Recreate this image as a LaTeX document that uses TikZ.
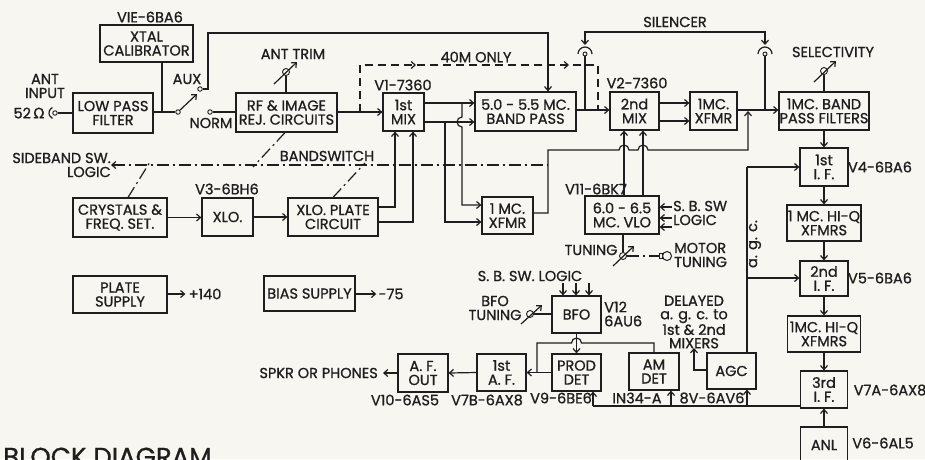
\documentclass[tikz,border=0pt]{standalone}
\usepackage{fontspec}
\setmainfont{Poppins}[FakeBold=0.9]
\newfontfamily\dvfont{DejaVu Sans}[FakeBold=0.6]
\usetikzlibrary{arrows.meta}
\definecolor{paper}{RGB}{248,246,240}
\definecolor{ink}{RGB}{30,30,30}
\newcommand{\bx}{\fontsize{14.5}{14}\selectfont}
\newcommand{\bigt}{\fontsize{26}{28}\selectfont}
\begin{document}
\begin{tikzpicture}[x=1pt,y=-1pt,
  blk/.style={draw=ink, line width=1.2pt, inner sep=0pt, align=center, font=\bx, text=ink},
  lbl/.style={inner sep=0pt, align=center, font=\bx, text=ink},
  ln/.style={draw=ink, line width=1.2pt},
  arr/.style={ln, -{Straight Barb[length=4pt,width=7pt]}},
  dsh/.style={ln, dash pattern=on 8pt off 5pt},
  dd/.style={ln, dash pattern=on 12pt off 4pt on 2pt off 4pt},
  term/.style={circle, draw=ink, fill=paper, line width=0.9pt, inner sep=0pt, minimum size=4.5pt},
  knob/.style={circle, draw=ink, fill=paper, line width=0.9pt, inner sep=0pt, minimum size=7pt}]
\clip (0,0) rectangle (925,459);
\fill[paper] (0,0) rectangle (925,459);

% ---------- boxes ----------
\node[blk,minimum width=93pt,minimum height=37pt] (cal) at (146.5,43.5) {XTAL\\CALIBRATOR};
\node[blk,minimum width=80pt,minimum height=40pt] (lpf) at (113,113) {LOW PASS\\FILTER};
\node[blk,minimum width=101pt,minimum height=39pt] (rf) at (286.5,112.5) {RF \& IMAGE\\REJ. CIRCUITS};
\node[blk,minimum width=41pt,minimum height=38pt] (mix1) at (403.5,112) {1st\\MIX};
\node[blk,minimum width=101pt,minimum height=39pt] (bp) at (525.5,111.5) {5.0 - 5.5 MC.\\BAND PASS};
\node[blk,minimum width=49pt,minimum height=38pt] (mix2) at (634.5,111) {2nd\\MIX};
\node[blk,minimum width=47pt,minimum height=38pt] (xf2) at (713.5,111) {1MC.\\XFMR};
\node[blk,minimum width=90pt,minimum height=38pt] (bpf) at (824,111) {1MC. BAND\\PASS FILTERS};
\node[blk,minimum width=48pt,minimum height=38pt] (if1) at (824,167) {1st\\I. F.};
\node[blk,minimum width=74pt,minimum height=36pt] (hq1) at (824,223) {1 MC. HI-Q\\XFMRS};
\node[blk,minimum width=48pt,minimum height=35pt] (if2) at (824,278.5) {2nd\\I. F.};
\node[blk,minimum width=73pt,minimum height=36pt] (hq2) at (824,334) {1MC. HI-Q\\XFMRS};
\node[blk,minimum width=47pt,minimum height=37pt] (if3) at (824,389.5) {3rd\\I. F.};
\node[blk,minimum width=47pt,minimum height=36pt] (anl) at (824,445) {ANL};
\node[blk,minimum width=94pt,minimum height=39pt] (cry) at (120,217.5) {CRYSTALS \&\\FREQ. SET.};
\node[blk,minimum width=51pt,minimum height=38pt] (xlo) at (227.5,217) {XLO.};
\node[blk,minimum width=90pt,minimum height=38pt] (xlp) at (333,217) {XLO. PLATE\\CIRCUIT};
\node[blk,minimum width=51pt,minimum height=37pt] (xf1) at (507.5,215.5) {1 MC.\\XFMR};
\node[blk,minimum width=74pt,minimum height=38pt] (vlo) at (622,215) {6.0 - 6.5\\MC. VLO};
\node[blk,minimum width=94pt,minimum height=37pt] (ps) at (120,294.5) {PLATE\\SUPPLY};
\node[blk,minimum width=91pt,minimum height=35pt] (bs) at (309.5,293.5) {BIAS SUPPLY};
\node[blk,minimum width=49pt,minimum height=37pt] (bfo) at (576.5,314.5) {BFO};
\node[blk,minimum width=49pt,minimum height=37pt] (pd) at (576.5,372.5) {PROD\\DET};
\node[blk,minimum width=50pt,minimum height=37pt] (am) at (654,371.5) {AM\\DET};
\node[blk,minimum width=49pt,minimum height=36pt] (agc) at (731.5,371) {AGC};
\node[blk,minimum width=49pt,minimum height=37pt] (af1) at (501.5,372.5) {1st\\A. F.};
\node[blk,minimum width=50pt,minimum height=38pt] (afo) at (423,373) {A. F.\\OUT};

% ---------- labels ----------
\node[lbl] (lcal) at (150,17) {VIE-6BA6};
\node[lbl] (lant) at (45,86) {ANT\\INPUT};
\node[lbl] (lohm) at (29,113) {52\,{\dvfont Ω}};
\node[lbl] (laux) at (187,79) {AUX};
\node[lbl] (lnorm) at (211,123) {NORM};
\node[lbl] (ltrim) at (293,54) {ANT TRIM};
\node[lbl] (lv1) at (403,85) {V1-7360};
\node[lbl] (l40) at (476,57) {40M ONLY};
\node[lbl] (lv2) at (637,83) {V2-7360};
\node[lbl] (lsil) at (675,22) {SILENCER};
\node[lbl] (lsel) at (833,52) {SELECTIVITY};
\node[lbl, align=right, anchor=east] (lsb) at (111,165) {SIDEBAND SW.\\LOGIC\hspace{8pt}};
\node[lbl] (lband) at (327,156) {BANDSWITCH};
\node[lbl] (lv3) at (227,189) {V3-6BH6};
\node[lbl] (lv11) at (596,189) {V11-6BK7};
\node[lbl, align=left, anchor=west] (lsbr) at (673,213) {S. B. SW\\LOGIC};
\node[lbl] (ltun) at (591,250) {TUNING};
\node[lbl, align=left, anchor=west] (lmot) at (674,255) {MOTOR\\TUNING};
\node[lbl] (lv4) at (880,167) {V4-6BA6};
\node[lbl] (lv5) at (880,278) {V5-6BA6};
\node[lbl] (lagc) at (755,244) [rotate=90] {a. g. c.};
\node[lbl] (l140) at (205,294) {+140};
\node[lbl] (l75) at (391,294) {-75};
\node[lbl] (lsbl) at (530,276) {S. B. SW. LOGIC};
\node[lbl] (lbfot) at (495,308) {BFO\\TUNING};
\node[lbl, align=left, anchor=west] (lv12) at (604,314) {V12\\6AU6};
\node[lbl, font=\fontsize{14.5}{13.4}\selectfont] (ldel) at (694,322) {DELAYED\\a. g. c. to\\1st \& 2nd\\MIXERS};
\node[lbl, anchor=east] (lspk) at (378,373) {SPKR OR PHONES};
\node[lbl] (lv10) at (405,400) {V10-6AS5};
\node[lbl] (lv7b) at (487,400) {V7B-6AX8};
\node[lbl] (lv9) at (561,398) {V9-6BE6};
\node[lbl] (lin) at (637,398) {IN34-A};
\node[lbl] (lv8) at (712,398) {8V-6AV6};
\node[lbl] (lv7a) at (890,390) {V7A-6AX8};
\node[lbl] (lv6) at (883,443) {V6-6AL5};
\node[lbl, font=\bigt, anchor=base west] (ltitle) at (3,466) {BLOCK DIAGRAM};

% ---------- antenna input and switch ----------
\node[term] (antc) at (55,113) {};
\draw[ln] (55,113) ++(115:6pt) arc[start angle=115,end angle=245,radius=6pt];
\draw[ln] (antc) -- (lpf.west);
\node[term] (piv) at (178,112) {};
\node[term] (aux) at (200,89) {};
\node[term] (norm) at (210,112) {};
\coordinate (swtip) at (197,94);
\coordinate (calj) at (162,113);
\draw[ln] (lpf.east |- piv) -- (piv);
\draw[ln] (cal.south -| calj) -- (calj);
\draw[arr] (piv) -- (swtip);
\draw[ln] (norm) -- (rf.west |- norm);
\coordinate (auxx) at (548,33);
\draw[arr] (aux) -- (208,89) -- (208,33) -- (auxx) -- (auxx |- bp.north);

% ant trim
\node[knob] (trim) at (286,72) {};
\coordinate (trimA) at (274,84); \coordinate (trimB) at (297,62);
\draw[ln] (trim |- rf.north) -- (trim);
\draw[arr] (trimA) -- (trimB);

% rf -> mix1, 40M only
\draw[arr] (rf.east |- 0,112) -- (mix1.west |- 0,112);
\coordinate (d40a) at (360,112); \coordinate (d40b) at (598,110);
\draw[dsh] (d40a) -- (360,65) -- (598,65) -- (d40b);
\coordinate (t40a) at (416,65); \coordinate (t40b) at (569,65);
\draw[arr] ([xshift=-1pt]t40a) -- (t40a);
\draw[arr] ([xshift=-1pt]t40b) -- (t40b);

% mix1 -> band pass and 1 MC xfmr
\draw[arr] (mix1.east |- 0,103) -- (bp.west |- 0,103);
\draw[arr] (mix1.east |- 0,122) -- (bp.west |- 0,122);
\draw[arr] (462,103) -- (462,117) arc[start angle=90,end angle=270,radius=5pt] -- (462,205) -- (xf1.west |- 0,205);
\draw[arr] (445,122) -- (445,222) -- (xf1.west |- 0,222);

% 1 MC xfmr -> 1MC band pass filters
\coordinate (xfj) at (748,110);
\draw[arr] (xf1.east |- 0,213) -- (548,213) -- (548,150) -- (619,150)
   arc[start angle=180,end angle=0,radius=5pt] -- (638,150)
   arc[start angle=180,end angle=0,radius=5pt] -- (748,150) -- ([yshift=-1pt]xfj);

% band pass -> mix2
\draw[arr] (bp.east |- 0,110) -- (mix2.west |- 0,110);

% silencer
\coordinate (sl) at (585,54); \coordinate (sr) at (765,54);
\draw[ln] (sl) ++(180:7pt) arc[start angle=180,end angle=0,radius=7pt];
\draw[ln] (sr) ++(180:7pt) arc[start angle=180,end angle=0,radius=7pt];
\node[term, minimum size=4pt] (slc) at (sl) {};
\node[term, minimum size=4pt] (src) at (sr) {};
\draw[ln] (slc) -- (585,110);
\draw[ln] (src) -- (765,110);
\draw[ln, {Straight Barb[length=4pt,width=7pt]}-{Straight Barb[length=4pt,width=7pt]}] (585,45) -- (585,32) -- (765,32) -- (765,45);

% mix2 -> xfmr -> filters
\draw[arr] (mix2.east |- 0,103) -- (xf2.west |- 0,103);
\draw[arr] (mix2.east |- 0,121) -- (xf2.west |- 0,121);
\draw[arr] (xf2.east |- 0,110) -- (bpf.west |- 0,110);

% selectivity
\node[knob] (sel) at (824,71) {};
\coordinate (selA) at (814,82); \coordinate (selB) at (836,61);
\draw[ln] (sel |- bpf.north) -- (sel);
\draw[arr] (selA) -- (selB);

% IF chain
\draw[arr] (bpf.south) -- (if1.north);
\draw[arr] (if1.south) -- (hq1.north);
\draw[arr] (hq1.south) -- (if2.north);
\draw[arr] (if2.south) -- (hq2.north);
\draw[arr] (hq2.south) -- (if3.north);
\draw[arr] (anl.north) -- (if3.south);

% agc
\draw[ln] (agc.north -| 747,0) -- (747,167);
\draw[arr] (747,167) -- (if1.west |- 0,167);
\draw[arr] (747,278) -- (if2.west |- 0,278);

% detector bus
\draw[ln] (if3.west |- 0,406) -- (593,406);
\draw[arr] (747,406) -- (agc.south -| 747,0);
\draw[arr] (671,406) -- (am.south -| 671,0);
\draw[arr] (593,406) -- (pd.south -| 593,0);
\coordinate (delx) at (694,348);
\draw[arr] (agc.west |- 0,370) -- (694,370) -- (delx);

% BFO
\coordinate (sb1) at (563,283); \coordinate (sb2) at (576,283); \coordinate (sb3) at (589,283);
\draw[arr] (sb1) -- (bfo.north -| sb1);
\draw[arr] (sb2) -- (bfo.north -| sb2);
\draw[arr] (sb3) -- (bfo.north -| sb3);
\node[knob] (bfk) at (530,314) {};
\coordinate (bfA) at (521,324); \coordinate (bfB) at (542,305);
\draw[ln] (bfk) -- (bfo.west |- bfk);
\draw[arr] (bfA) -- (bfB);
\draw[arr] (bfo.south) -- (pd.north);
\draw[ln] (am.north) -- (am.north |- 0,343) -- (581.5,343)
   arc[start angle=0,end angle=180,radius=5pt] -- (537,343) -- (537,372.5);
\draw[arr] (pd.west) -- (af1.east);
\draw[arr] (af1.west) -- (afo.east);
\draw[arr] (afo.west) -- ([xshift=5pt]lspk.east);

% VLO
\draw[arr] (vlo.north -| 624,0) -- (mix2.south -| 624,0);
\draw[arr] (vlo.north -| 643,0) -- (mix2.south -| 643,0);
\coordinate (vs1) at (672,207); \coordinate (vs2) at (672,218); \coordinate (vs3) at (672,227);
\draw[arr] (vs1) -- (vlo.east |- vs1);
\draw[arr] (vs2) -- (vlo.east |- vs2);
\draw[arr] (vs3) -- (vlo.east |- vs3);
\node[knob] (tk) at (623,256) {};
\coordinate (tkA) at (613,266); \coordinate (tkB) at (634,246);
\draw[ln] (vlo.south -| tk) -- (tk);
\draw[arr] (tkA) -- (tkB);
\node[circle, draw=ink, line width=1pt, minimum size=9pt, inner sep=0pt] (mot) at (667,256) {};
\draw[ln, line width=0.9pt] (mot.west) ++(0,-2.5) rectangle ++(-3,5);
\draw[dd] (tk) -- ([xshift=-3pt]mot.west);

% crystal oscillator chain
\draw[arr] (cry.east) -- (xlo.west |- cry.east);
\draw[arr] (xlo.east) -- (xlp.west |- xlo.east);
\draw[arr] (xlp.east |- 0,207) -- (395,207) -- (mix1.south -| 395,0);
\draw[arr] (xlp.east |- 0,222) -- (413,222) -- (mix1.south -| 413,0);

% bandswitch / sideband linkage
\coordinate (bsw) at (111,165);
\draw[dd, {Straight Barb[length=4pt,width=7pt]}-] (bsw) -- (548,165);
\draw[dd] (cry.north -| 128,0) -- (150,162);
\draw[dd] (rf.south -| 285,0) -- (253,167);
\draw[dd] (xlp.north -| 333,0) -- (365,163);

% supplies
\draw[arr] (ps.east |- l140) -- ([xshift=-3pt]l140.west);
\draw[arr] (bs.east |- l75) -- ([xshift=-2pt]l75.west);
\end{tikzpicture}
\end{document}
